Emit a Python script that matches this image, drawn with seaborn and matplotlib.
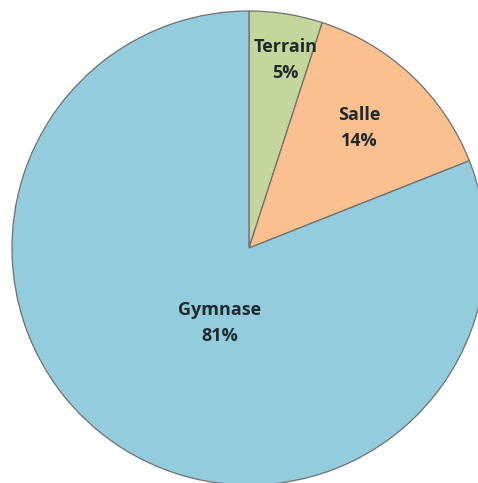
import matplotlib
matplotlib.use("Agg")
import matplotlib.pyplot as plt
import seaborn as sns

# Share of training sessions by venue
categories = ["Terrain", "Salle", "Gymnase"]
shares = [5, 14, 81]
colors = ["#C3D69B", "#FAC090", "#93CDDD"]

sns.set_theme(style="white")
plt.rcParams["font.family"] = ["Open Sans", "DejaVu Sans"]

W, H = 478, 483
fig = plt.figure(figsize=(W / 100, H / 100), dpi=100)
ax = fig.add_axes([0, 0, 1, 1])

cx, cy, R = 249, 248, 237  # pixel centre and radius of the pie
wedges, _ = ax.pie(
    shares,
    colors=sns.color_palette(colors),
    startangle=90,
    counterclock=False,
    radius=1.0,
    wedgeprops=dict(edgecolor="#6f6f6f", linewidth=0.9),
)

# Label anchors (x, baseline of first line) in units of the pie radius
label_pos = [(0.154, 0.827), (0.466, 0.540), (-0.124, -0.283)]
line_gap = 25.8 / R
for cat, val, (lx, ly) in zip(categories, shares, label_pos):
    style = dict(ha="center", va="baseline", fontsize=13,
                 fontweight="bold", color="#1f2a2c")
    ax.text(lx, ly, cat, **style)
    ax.text(lx, ly - line_gap, f"{val}%", **style)

ax.set_xlim(-cx / R, (W - cx) / R)
ax.set_ylim(-(H - cy) / R, cy / R)
ax.set_aspect("auto")
ax.axis("off")

fig.savefig("out.png", dpi=100, facecolor="white")
